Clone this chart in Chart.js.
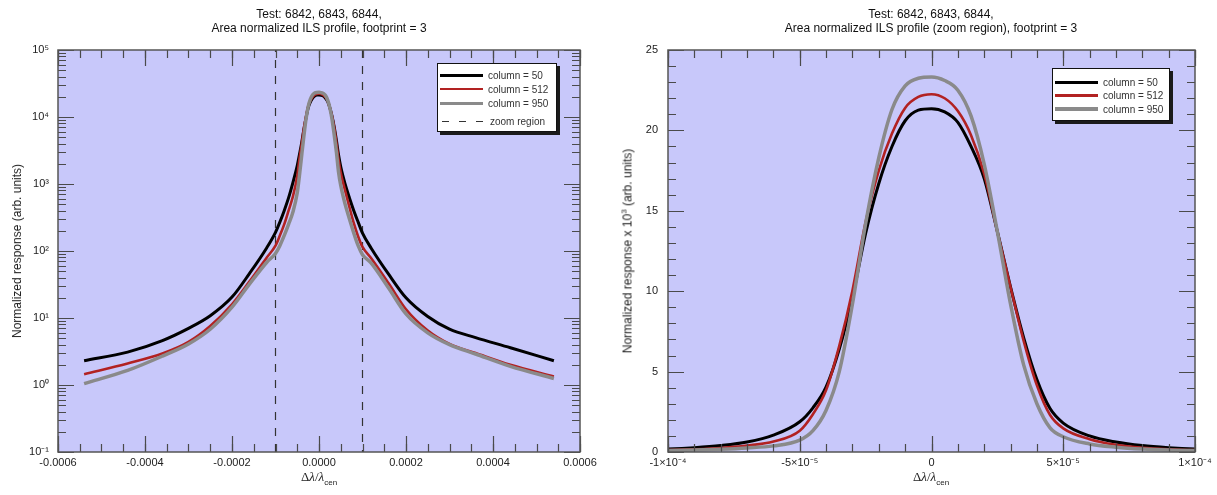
<!DOCTYPE html>
<html>
<head>
<meta charset="utf-8">
<script src="https://cdn.jsdelivr.net/npm/chart.js@4/dist/chart.umd.min.js"></script>
<style>
  html, body { margin: 0; padding: 0; background: #fff; }
  body { width: 1217px; height: 495px; position: relative; overflow: hidden;
         font-family: "Liberation Sans", Arial, sans-serif; color: #111; }
  .panel { position: absolute; top: 0; height: 495px; }
  .panel canvas { display: block; }
  .title { position: absolute; top: 7px; font-size: 12px; line-height: 14px; text-align: center;
           white-space: nowrap; transform: translateX(-50%); color: #111; }
  .ytitle { position: absolute; font-size: 12px; white-space: nowrap; color: #222;
            transform: translate(-50%, -50%) rotate(-90deg); }
  .ytitle sup { font-size: 8px; }
  .xtitle { position: absolute; top: 469px; transform: translateX(-50%); white-space: nowrap;
            font-family: "Liberation Serif", serif; font-size: 13px; color: #222; }
  .xtitle sub { font-family: "Liberation Sans", sans-serif; font-size: 8px; }
  .legend { position: absolute; background: #fff; border: 1px solid #111;
            box-shadow: 3px 3px 0 #1b1b1b; font-size: 10px; color: #333; box-sizing: border-box; }
  .legend .row { position: absolute; left: 2px; height: 12px; display: flex; align-items: center; }
  .legend .swatch { width: 43px; margin-right: 5px; }
</style>
</head>
<body>
<div class="panel" style="left:0;width:608px"><canvas id="logChart" width="608" height="495"></canvas></div>
<div class="panel" style="left:608px;width:609px"><canvas id="zoomChart" width="609" height="495"></canvas></div>

<div class="title" style="left:319px">Test: 6842, 6843, 6844,<br>Area normalized ILS profile, footprint = 3</div>
<div class="title" style="left:931px">Test: 6842, 6843, 6844,<br>Area normalized ILS profile (zoom region), footprint = 3</div>
<div class="ytitle" style="left:17px;top:251px">Normalized response (arb. units)</div>
<div class="ytitle" style="left:627px;top:251px">Normalized response x 10<sup>3</sup> (arb. units)</div>
<div class="xtitle" style="left:319px">Δ<i>λ</i>/<i>λ</i><sub>cen</sub></div>
<div class="xtitle" style="left:931px">Δ<i>λ</i>/<i>λ</i><sub>cen</sub></div>
<div class="legend" id="legendLog" style="left:437px;top:63px;width:120px;height:69px"></div>
<div class="legend" id="legendZoom" style="left:1052px;top:68px;width:118px;height:53px"></div>

<script>
// Detector columns shown in the comparison
const COLUMNS = [50, 512, 950];
const SERIES_COLORS = ['#000000', '#b22222', '#8a8a8a'];
const SERIES_WIDTHS = [3, 2.6, 3.5];

// Relative wavelength offset Δλ/λcen of each sample
const dLambda = [
  -5.4e-4, -4.4e-4, -3.6e-4, -3.0e-4, -2.5e-4, -2.0e-4, -1.6e-4, -1.2e-4, -1.0e-4,
  -9e-5, -8e-5, -7e-5, -6e-5, -5e-5, -4.5e-5, -4e-5, -3.5e-5, -3e-5, -2.5e-5, -2e-5,
  -1.5e-5, -1e-5, -5e-6, 0, 5e-6, 1e-5, 1.5e-5, 2e-5, 2.5e-5, 3e-5, 3.5e-5, 4e-5,
  4.5e-5, 5e-5, 6e-5, 7e-5, 8e-5, 9e-5, 1.0e-4, 1.2e-4, 1.6e-4, 2.0e-4, 2.5e-4,
  3.0e-4, 3.6e-4, 4.4e-4, 5.4e-4
];

// Area-normalized ILS response per column (arb. units)
const col50 = [
  2.3, 3.1, 4.6, 7.0, 10.8, 20.5, 46, 112, 190,
  270, 400, 620, 1050, 1880, 2750, 4050, 6400, 9600, 13600, 16700,
  19000, 20600, 21260, 21350, 21150, 20500, 19000, 17000, 13700, 10250, 7100, 4500,
  2700, 1800, 1000, 620, 400, 270, 185, 110, 45, 20, 10.5,
  6.8, 5.1, 3.6, 2.3
];
const col512 = [
  1.45, 2.1, 2.95, 4.4, 7.6, 16, 35, 80, 120,
  170, 250, 400, 650, 1320, 2350, 3850, 6600, 10050, 14300, 17500,
  19800, 21400, 22080, 22250, 22000, 21200, 19700, 17300, 13700, 10250, 6900, 4150,
  2300, 1470, 800, 450, 260, 165, 115, 78, 33, 13.5, 6.5,
  4.1, 3.0, 2.0, 1.34
];
const col950 = [
  1.05, 1.65, 2.7, 4.1, 6.8, 14.5, 32, 68, 92,
  120, 170, 250, 380, 740, 1330, 2600, 5000, 9200, 14200, 18300,
  21300, 22770, 23240, 23320, 23100, 22500, 20900, 17900, 13700, 9200, 5400, 3000,
  1500, 950, 500, 300, 185, 120, 88, 66, 28, 11.5, 6.0,
  4.0, 2.9, 1.9, 1.25
];
const SERIES = [col50, col512, col950];

// Zoom window marked on the full profile
const ZOOM_LO = -1e-4;
const ZOOM_HI = 1e-4;

// Axis ranges and labelled ticks
const LOG_X_TICKS = [-6e-4, -4e-4, -2e-4, 0, 2e-4, 4e-4, 6e-4];
const LOG_Y_TICKS = [1e-1, 1e0, 1e1, 1e2, 1e3, 1e4, 1e5];
const ZOOM_X_TICKS = [-1e-4, -5e-5, 0, 5e-5, 1e-4];
const ZOOM_X_LABELS = ['-1×10⁻⁴', '-5×10⁻⁵', '0', '5×10⁻⁵', '1×10⁻⁴'];
const ZOOM_Y_TICKS = [0, 5, 10, 15, 20, 25];
const ZOOM_SCALE = 1e3;   // zoom panel plots response / 10^3

const SUP = { '-': '⁻', '0': '⁰', '1': '¹', '2': '²', '3': '³', '4': '⁴', '5': '⁵', '6': '⁶', '7': '⁷', '8': '⁸', '9': '⁹' };
const pow10Label = v => '10' + String(Math.round(Math.log10(v))).split('').map(c => SUP[c]).join('');

// minor tick positions
const range = (a, b, step) => { const out = []; for (let k = Math.round(a / step); k <= Math.round(b / step); k++) out.push(k * step); return out; };
const logMinor = [];
for (let e = -1; e < 5; e++) for (let m = 2; m <= 9; m++) logMinor.push(m * Math.pow(10, e));

const TICK_FONT = { family: '"Liberation Sans", Arial, sans-serif', size: 11 };

// Frame, plot background and inward tick marks on all four sides
const axisFrame = {
  id: 'axisFrame',
  beforeDatasetsDraw(chart, _args, o) {
    const { ctx, chartArea: a } = chart;
    ctx.save();
    ctx.fillStyle = o.background;
    ctx.fillRect(a.left, a.top, a.width, a.height);
    ctx.restore();
  },
  afterDatasetsDraw(chart, _args, o) {
    const { ctx, chartArea: a, scales } = chart;
    ctx.save();
    ctx.strokeStyle = o.tickColor;
    ctx.lineWidth = 1.2;
    const xt = (vals, len) => vals.forEach(v => {
      const p = Math.round(scales.x.getPixelForValue(v)) + 0.5;
      if (p < a.left - 1 || p > a.right + 1) return;
      ctx.beginPath();
      ctx.moveTo(p, a.bottom); ctx.lineTo(p, a.bottom - len);
      ctx.moveTo(p, a.top); ctx.lineTo(p, a.top + len);
      ctx.stroke();
    });
    const yt = (vals, len) => vals.forEach(v => {
      const p = Math.round(scales.y.getPixelForValue(v)) + 0.5;
      if (p < a.top - 1 || p > a.bottom + 1) return;
      ctx.beginPath();
      ctx.moveTo(a.left, p); ctx.lineTo(a.left + len, p);
      ctx.moveTo(a.right, p); ctx.lineTo(a.right - len, p);
      ctx.stroke();
    });
    xt(o.xMinor, 8); xt(o.xMajor, 16);
    yt(o.yMinor, 8); yt(o.yMajor, 16);
    ctx.strokeStyle = o.frameColor;
    ctx.lineWidth = 1.5;
    ctx.strokeRect(a.left, a.top, a.width, a.height);
    ctx.restore();
  }
};

function profileDatasets(scaleBy) {
  return SERIES.map((vals, i) => ({
    label: 'column = ' + COLUMNS[i],
    data: dLambda.map((x, k) => ({ x, y: vals[k] / scaleBy })),
    borderColor: SERIES_COLORS[i],
    borderWidth: SERIES_WIDTHS[i],
    pointRadius: 0,
    fill: false,
    cubicInterpolationMode: 'monotone',
    order: 2 - i
  }));
}

function baseScale(extra) {
  return Object.assign({
    grid: { display: false, drawTicks: false, tickLength: 0 },
    border: { display: false }
  }, extra);
}

// Full profile, logarithmic response
const logDatasets = profileDatasets(1);
logDatasets.push({
  label: 'zoom region',
  data: [
    { x: ZOOM_LO, y: LOG_Y_TICKS[0] }, { x: ZOOM_LO, y: LOG_Y_TICKS[LOG_Y_TICKS.length - 1] },
    { x: 0, y: null },
    { x: ZOOM_HI, y: LOG_Y_TICKS[LOG_Y_TICKS.length - 1] }, { x: ZOOM_HI, y: LOG_Y_TICKS[0] }
  ],
  borderColor: '#333',
  borderWidth: 1.2,
  borderDash: [8, 8],
  pointRadius: 0,
  spanGaps: false,
  tension: 0,
  order: 5
});

new Chart(document.getElementById('logChart'), {
  type: 'line',
  data: { datasets: logDatasets },
  plugins: [axisFrame],
  options: {
    responsive: false, animation: false, events: [],
    layout: { padding: { top: 50, right: 28, bottom: 0, left: 0 } },
    plugins: {
      legend: { display: false }, title: { display: false }, tooltip: { enabled: false },
      axisFrame: {
        background: '#c8c8fa', tickColor: '#4a4a4a', frameColor: '#555',
        xMajor: LOG_X_TICKS, xMinor: range(-6e-4, 6e-4, 5e-5),
        yMajor: LOG_Y_TICKS, yMinor: logMinor
      }
    },
    scales: {
      x: baseScale({
        type: 'linear', min: LOG_X_TICKS[0], max: LOG_X_TICKS[LOG_X_TICKS.length - 1],
        afterBuildTicks: s => { s.ticks = LOG_X_TICKS.map(value => ({ value })); },
        afterFit: s => { s.height = 43; },
        ticks: { font: TICK_FONT, color: '#222', padding: 4, maxRotation: 0, autoSkip: false,
                 callback: v => v.toFixed(4) }
      }),
      y: baseScale({
        type: 'logarithmic', min: LOG_Y_TICKS[0], max: LOG_Y_TICKS[LOG_Y_TICKS.length - 1],
        afterBuildTicks: s => { s.ticks = LOG_Y_TICKS.map(value => ({ value })); },
        afterFit: s => { s.width = 58; },
        ticks: { font: TICK_FONT, color: '#222', padding: 9, autoSkip: false,
                 callback: v => pow10Label(v) }
      })
    }
  }
});

// Core of the profile, linear response
new Chart(document.getElementById('zoomChart'), {
  type: 'line',
  data: { datasets: profileDatasets(ZOOM_SCALE) },
  plugins: [axisFrame],
  options: {
    responsive: false, animation: false, events: [],
    layout: { padding: { top: 50, right: 22, bottom: 0, left: 0 } },
    plugins: {
      legend: { display: false }, title: { display: false }, tooltip: { enabled: false },
      axisFrame: {
        background: '#c8c8fa', tickColor: '#4a4a4a', frameColor: '#555',
        xMajor: ZOOM_X_TICKS, xMinor: range(ZOOM_LO, ZOOM_HI, 1e-5),
        yMajor: ZOOM_Y_TICKS, yMinor: range(0, 25, 1)
      }
    },
    scales: {
      x: baseScale({
        type: 'linear', min: ZOOM_LO, max: ZOOM_HI,
        afterBuildTicks: s => { s.ticks = ZOOM_X_TICKS.map(value => ({ value })); },
        afterFit: s => { s.height = 43; },
        ticks: { font: TICK_FONT, color: '#222', padding: 4, maxRotation: 0, autoSkip: false,
                 callback: (v, i) => ZOOM_X_LABELS[i] }
      }),
      y: baseScale({
        type: 'linear', min: ZOOM_Y_TICKS[0], max: ZOOM_Y_TICKS[ZOOM_Y_TICKS.length - 1],
        afterBuildTicks: s => { s.ticks = ZOOM_Y_TICKS.map(value => ({ value })); },
        afterFit: s => { s.width = 60; },
        ticks: { font: TICK_FONT, color: '#222', padding: 10, autoSkip: false }
      })
    }
  }
});

// Legends
function buildLegend(el, withZoom) {
  const rows = COLUMNS.map((c, i) => ({ text: 'column = ' + c, color: SERIES_COLORS[i], width: SERIES_WIDTHS[i], dashed: false }));
  if (withZoom) rows.push({ text: 'zoom region', color: '#333', width: 1.5, dashed: true });
  const tops = withZoom ? [5, 19, 33.5, 51.5] : [7, 20.5, 34];
  rows.forEach((r, i) => {
    const row = document.createElement('div');
    row.className = 'row';
    row.style.top = tops[i] + 'px';
    const sw = document.createElement('span');
    sw.className = 'swatch';
    sw.style.height = r.width + 'px';
    sw.style.background = r.dashed
      ? `repeating-linear-gradient(to right, transparent 0 2px, ${r.color} 2px 9px, transparent 9px 17px)`
      : r.color;
    const tx = document.createElement('span');
    tx.textContent = r.text;
    if (r.dashed) tx.style.marginLeft = '2px';
    row.appendChild(sw); row.appendChild(tx);
    el.appendChild(row);
  });
}
buildLegend(document.getElementById('legendLog'), true);
buildLegend(document.getElementById('legendZoom'), false);
</script>
</body>
</html>
